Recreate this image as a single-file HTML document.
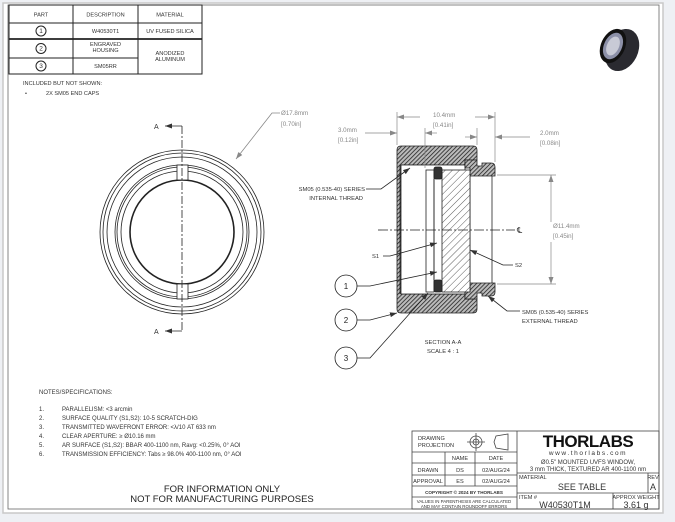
<!DOCTYPE html>
<html><head><meta charset="utf-8"><style>
html,body{margin:0;padding:0;background:#eef0f4;}
svg{display:block;font-family:"Liberation Sans",sans-serif;}
</style></head><body>
<svg width="675" height="522" viewBox="0 0 675 522" xmlns="http://www.w3.org/2000/svg">
<defs>
<pattern id="h1" width="3" height="3" patternUnits="userSpaceOnUse" patternTransform="rotate(45)">
<rect width="3" height="3" fill="#bbb"/><line x1="0" y1="0" x2="0" y2="3" stroke="#222" stroke-width="1.6"/></pattern>
<pattern id="h2" width="5" height="5" patternUnits="userSpaceOnUse" patternTransform="rotate(45)">
<rect width="5" height="5" fill="#fff"/><line x1="0" y1="0" x2="0" y2="5" stroke="#333" stroke-width="0.8"/></pattern>
<marker id="ar" markerWidth="8" markerHeight="6" refX="7" refY="3" orient="auto" markerUnits="userSpaceOnUse"><path d="M0,0.5 L7,3 L0,5.5z" fill="#333"/></marker>
<marker id="ag" markerWidth="8" markerHeight="6" refX="7" refY="3" orient="auto" markerUnits="userSpaceOnUse"><path d="M0,0.5 L7,3 L0,5.5z" fill="#888"/></marker>
</defs>
<rect x="3" y="3" width="660" height="510" fill="#fff" stroke="#c8c8c8" stroke-width="1.5"/>
<rect x="8" y="5" width="651" height="504" fill="none" stroke="#666" stroke-width="0.8"/>

<!-- parts table -->
<g stroke="#222" stroke-width="1" fill="none">
<rect x="9" y="5" width="193" height="69"/>
<line x1="9" y1="23" x2="202" y2="23"/>
<line x1="9" y1="39" x2="202" y2="39" stroke-width="1.8"/>
<line x1="9" y1="58" x2="138" y2="58"/>
<line x1="73" y1="5" x2="73" y2="74"/>
<line x1="138" y1="5" x2="138" y2="74"/>
<circle cx="41" cy="31" r="5"/><circle cx="41" cy="48.5" r="5"/><circle cx="41" cy="66" r="5"/>
</g>
<g fill="#333" font-size="5.6" text-anchor="middle">
<text x="41" y="16.5">PART</text><text x="105.5" y="16.5">DESCRIPTION</text><text x="170" y="16.5">MATERIAL</text>
<text x="41" y="33" font-size="6.5">1</text><text x="41" y="50.7" font-size="6.5">2</text><text x="41" y="68.2" font-size="6.5">3</text>
<text x="105.5" y="33">W40530T1</text><text x="170" y="33">UV FUSED SILICA</text>
<text x="105.5" y="46">ENGRAVED</text><text x="105.5" y="52">HOUSING</text>
<text x="105.5" y="68">SM05RR</text>
<text x="170" y="55">ANODIZED</text><text x="170" y="61">ALUMINUM</text>
</g>
<g fill="#333" font-size="5.6">
<text x="23" y="85">INCLUDED BUT NOT SHOWN:</text>
<text x="25" y="95">•</text><text x="46" y="95">2X SM05 END CAPS</text>
</g>

<!-- lens image -->
<g>
<ellipse cx="622" cy="50" rx="16" ry="22" fill="#2a2a30" transform="rotate(25 622 50)"/>
<ellipse cx="613" cy="46" rx="12" ry="18" fill="#111" transform="rotate(25 613 46)"/>
<ellipse cx="613" cy="46" rx="9" ry="14" fill="#8c90a8" transform="rotate(25 613 46)"/>
<ellipse cx="613" cy="46" rx="6" ry="10" fill="#c8cad6" transform="rotate(25 613 46)"/>
</g>

<!-- front view -->
<g fill="none" stroke="#222" stroke-width="0.8">
<circle cx="182" cy="232" r="82"/><circle cx="182" cy="232" r="79"/><circle cx="182" cy="232" r="75"/>
<circle cx="182" cy="232" r="67"/><circle cx="182" cy="232" r="65"/><circle cx="182" cy="232" r="61"/>
<circle cx="182" cy="232" r="52" stroke-width="1.6"/>
<rect x="177" y="165" width="11" height="15" fill="#fff"/>
<rect x="177" y="284" width="11" height="15" fill="#fff"/>
</g>
<line x1="182" y1="126" x2="182" y2="331" stroke="#222" stroke-width="0.8" stroke-dasharray="8,2,2,2"/>
<g stroke="#222" stroke-width="0.8">
<line x1="182" y1="126" x2="165" y2="126" marker-end="url(#ar)"/>
<line x1="182" y1="331" x2="165" y2="331" marker-end="url(#ar)"/>
</g>
<g fill="#333" font-size="7"><text x="154" y="129">A</text><text x="154" y="334">A</text></g>
<polyline points="280,113 272,113 236,159" fill="none" stroke="#888" stroke-width="0.8" marker-end="url(#ag)"/>
<g fill="#888" font-size="6.2"><text x="281" y="115">Ø17.8mm</text><text x="281" y="126">[0.70in]</text></g>

<!-- section view -->
<g stroke="#222" stroke-width="0.8">
<path d="M397,150 Q397,146 401,146 L473,146 Q477,146 477,150 L477,160 L465,160 L465,165 L401,165 L401,294 L465,294 L465,299 L477,299 L477,309 Q477,313 473,313 L401,313 Q397,313 397,309 Z" fill="url(#h1)"/>
<rect x="401" y="165" width="64" height="129" fill="#fff"/>
<path d="M465,160 L477,160 L477,166 L482,166 L482,163 L491,163 Q495,163 495,167 L495,176 L470,176 L470,168 L465,168 Z" fill="url(#h1)"/>
<path d="M465,299 L477,299 L477,293 L482,293 L482,296 L491,296 Q495,296 495,292 L495,283 L470,283 L470,291 L465,291 Z" fill="url(#h1)"/>
<line x1="470" y1="176" x2="470" y2="283" fill="none"/>
<line x1="492" y1="176" x2="492" y2="283" fill="none"/>
<line x1="400" y1="165" x2="400" y2="294"/>
<rect x="442" y="170" width="28" height="122" fill="url(#h2)"/>
<rect x="426" y="170" width="8" height="122" fill="#fff"/>
<rect x="434" y="167" width="8" height="12" rx="2" fill="#333"/>
<rect x="434" y="280" width="8" height="12" rx="2" fill="#333"/>
<line x1="434" y1="179" x2="434" y2="280"/>
</g>
<line x1="378" y1="230" x2="515" y2="230" stroke="#222" stroke-width="0.8" stroke-dasharray="10,2,2,2"/>
<text x="517" y="233" font-size="8" fill="#333">℄</text>

<!-- dims -->
<g stroke="#888" stroke-width="0.7" fill="none">
<line x1="397" y1="112" x2="397" y2="145"/><line x1="495" y1="112" x2="495" y2="162"/>
<line x1="425" y1="128" x2="425" y2="168"/><line x1="477" y1="128" x2="477" y2="145"/>
<line x1="420" y1="117" x2="397" y2="117" marker-end="url(#ag)"/>
<line x1="475" y1="117" x2="495" y2="117" marker-end="url(#ag)"/>
<line x1="365" y1="133" x2="397" y2="133" marker-end="url(#ag)"/>
<line x1="437" y1="133" x2="425" y2="133" marker-end="url(#ag)"/>
<line x1="465" y1="137" x2="477" y2="137" marker-end="url(#ag)"/>
<line x1="530" y1="137" x2="495" y2="137" marker-end="url(#ag)"/>
<line x1="497" y1="175" x2="556" y2="175"/><line x1="497" y1="284" x2="556" y2="284"/>
<line x1="551" y1="222" x2="551" y2="175" marker-end="url(#ag)"/>
<line x1="551" y1="242" x2="551" y2="284" marker-end="url(#ag)"/>
</g>
<g fill="#888" font-size="6.2">
<text x="433" y="117">10.4mm</text><text x="433" y="127">[0.41in]</text>
<text x="338" y="132">3.0mm</text><text x="338" y="142">[0.12in]</text>
<text x="540" y="135">2.0mm</text><text x="540" y="145">[0.08in]</text>
<text x="553" y="228">Ø11.4mm</text><text x="553" y="238">[0.45in]</text>
</g>

<!-- leaders -->
<g stroke="#222" stroke-width="0.8" fill="none">
<polyline points="366,189 381,189 410,168" marker-end="url(#ar)"/>
<polyline points="383,256 390,256 437,243" marker-end="url(#ar)"/>
<polyline points="513,265 503,265 470,250" marker-end="url(#ar)"/>
<polyline points="357,286 370,286 437,272" marker-end="url(#ar)"/>
<polyline points="357,320 370,320 397,313" marker-end="url(#ar)"/>
<polyline points="357,358 370,358 428,293" marker-end="url(#ar)"/>
<polyline points="520,311 507,311 488,296" marker-end="url(#ar)"/>
<circle cx="346" cy="286" r="11"/><circle cx="346" cy="320" r="11"/><circle cx="346" cy="358" r="11"/>
</g>
<g fill="#333" font-size="5.8">
<text x="365" y="191" text-anchor="end">SM05 (0.535-40) SERIES</text>
<text x="363" y="200" text-anchor="end">INTERNAL THREAD</text>
<text x="372" y="258">S1</text><text x="515" y="267">S2</text>
<text x="522" y="314">SM05 (0.535-40) SERIES</text>
<text x="522" y="323">EXTERNAL THREAD</text>
<text x="443" y="344" text-anchor="middle">SECTION A-A</text>
<text x="443" y="353" text-anchor="middle">SCALE 4 : 1</text>
</g>
<g fill="#222" font-size="8" text-anchor="middle">
<text x="346" y="289">1</text><text x="346" y="323">2</text><text x="346" y="361">3</text>
</g>

<!-- notes -->
<g fill="#333" font-size="6">
<text x="39" y="394">NOTES/SPECIFICATIONS:</text>
<text x="39" y="411">1.</text><text x="62" y="411">PARALLELISM: &lt;3 arcmin</text>
<text x="39" y="420">2.</text><text x="62" y="420">SURFACE QUALITY (S1,S2): 10-5 SCRATCH-DIG</text>
<text x="39" y="429">3.</text><text x="62" y="429">TRANSMITTED WAVEFRONT ERROR: &lt;λ/10 AT 633 nm</text>
<text x="39" y="438">4.</text><text x="62" y="438">CLEAR APERTURE: ≥ Ø10.16 mm</text>
<text x="39" y="447">5.</text><text x="62" y="447">AR SURFACE (S1,S2): BBAR 400-1100 nm, Ravg: &lt;0.25%, 0° AOI</text>
<text x="39" y="456">6.</text><text x="62" y="456">TRANSMISSION EFFICIENCY: Tabs ≥ 98.0% 400-1100 nm, 0° AOI</text>
</g>
<g fill="#222" font-size="9.5" text-anchor="middle">
<text x="222" y="492">FOR INFORMATION ONLY</text>
<text x="222" y="502">NOT FOR MANUFACTURING PURPOSES</text>
</g>

<!-- title block -->
<g stroke="#444" stroke-width="0.8" fill="none">
<rect x="412" y="431" width="247" height="78"/>
<line x1="517" y1="431" x2="517" y2="509"/>
<line x1="412" y1="452" x2="517" y2="452"/>
<line x1="412" y1="463" x2="517" y2="463"/>
<line x1="412" y1="475" x2="517" y2="475"/>
<line x1="412" y1="486" x2="517" y2="486"/>
<line x1="412" y1="497" x2="517" y2="497"/>
<line x1="445" y1="452" x2="445" y2="486"/>
<line x1="475" y1="452" x2="475" y2="486"/>
<line x1="517" y1="473" x2="659" y2="473"/>
<line x1="517" y1="493" x2="659" y2="493"/>
<line x1="648" y1="473" x2="648" y2="493"/>
<line x1="613" y1="493" x2="613" y2="509"/>
<circle cx="476" cy="442" r="6"/><circle cx="476" cy="442" r="3"/>
<line x1="467" y1="442" x2="485" y2="442"/><line x1="476" y1="433" x2="476" y2="451"/>
<path d="M494,442 L496,436 L508,434 L508,450 L496,448 Z"/>
</g>
<g fill="#333" font-size="5.6">
<text x="418" y="440">DRAWING</text><text x="418" y="447">PROJECTION</text>
<text x="460" y="460" text-anchor="middle">NAME</text><text x="496" y="460" text-anchor="middle">DATE</text>
<text x="428" y="472" text-anchor="middle">DRAWN</text><text x="460" y="472" text-anchor="middle">DS</text><text x="496" y="472" text-anchor="middle">02/AUG/24</text>
<text x="428" y="483" text-anchor="middle">APPROVAL</text><text x="460" y="483" text-anchor="middle">ES</text><text x="496" y="483" text-anchor="middle">02/AUG/24</text>
<text x="464" y="494" text-anchor="middle" font-size="4.6" font-weight="bold">COPYRIGHT © 2024 BY THORLABS</text>
<text x="464" y="503" text-anchor="middle" font-size="4.4">VALUES IN PARENTHESIS ARE CALCULATED</text>
<text x="464" y="508" text-anchor="middle" font-size="4.4">AND MAY CONTAIN ROUNDOFF ERRORS</text>
<text x="588" y="447" text-anchor="middle" font-size="17" font-weight="bold" fill="#111" letter-spacing="-0.5">THORLABS</text>
<text x="588" y="455" text-anchor="middle" font-size="6.5" letter-spacing="1.6">www.thorlabs.com</text>
<text x="588" y="464" text-anchor="middle" font-size="6">Ø0.5" MOUNTED UVFS WINDOW,</text>
<text x="588" y="471" text-anchor="middle" font-size="6">3 mm THICK, TEXTURED AR 400-1100 nm</text>
<text x="519" y="479">MATERIAL</text>
<text x="582" y="490" text-anchor="middle" font-size="9">SEE TABLE</text>
<text x="653" y="479" text-anchor="middle">REV</text>
<text x="653" y="490" text-anchor="middle" font-size="9">A</text>
<text x="519" y="499">ITEM #</text>
<text x="565" y="508" text-anchor="middle" font-size="9">W40530T1M</text>
<text x="636" y="499" text-anchor="middle">APPROX WEIGHT</text>
<text x="636" y="508" text-anchor="middle" font-size="9">3.61 g</text>
</g>
</svg>
</body></html>
